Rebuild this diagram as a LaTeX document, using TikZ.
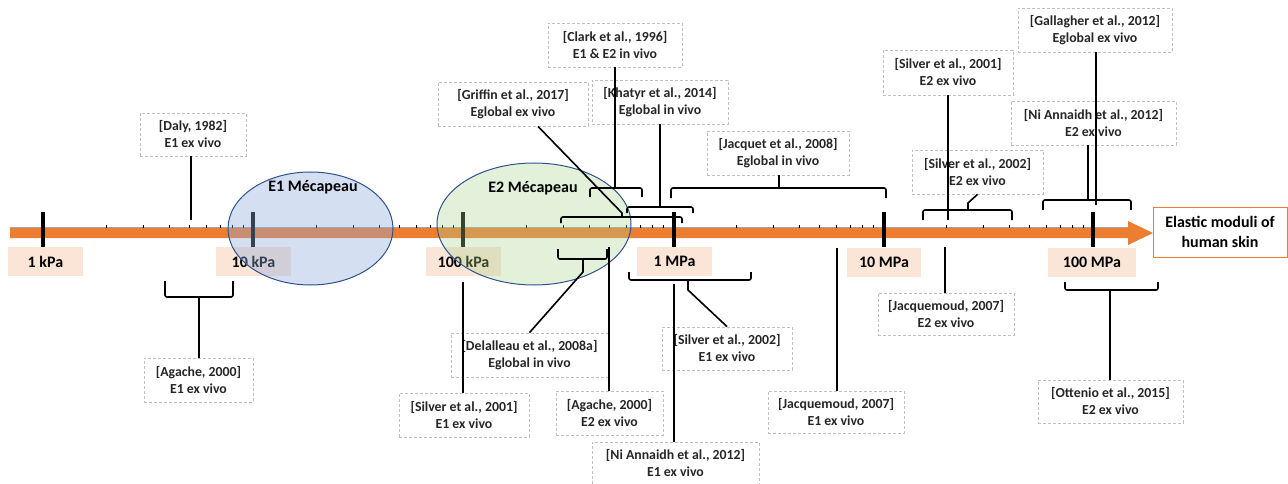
\documentclass[tikz,border=0pt]{standalone}
\usepackage{fontspec}
\setmainfont{Carlito}
\usetikzlibrary{shapes.geometric}
\definecolor{axorange}{HTML}{ED7D31}
\definecolor{peach}{HTML}{FBE5D6}
\definecolor{boxgray}{HTML}{BFBFBF}
\definecolor{eonefill}{HTML}{8FAADC}
\definecolor{etwofill}{HTML}{A9D18E}
\definecolor{ellline}{HTML}{2F528F}
\definecolor{reftext}{HTML}{262626}
\newcommand{\mybrace}[4]{\draw[conn, rounded corners=2pt] (#1,{#3+#4}) -- (#1,#3) -- (#2,#3) -- (#2,{#3+#4});}
\begin{document}
\begin{tikzpicture}[x=1pt,y=-1pt,
  conn/.style={draw=black, line width=1.6pt},
  refb/.style={draw=boxgray, dash pattern=on 3pt off 2pt, line width=0.8pt, align=center, inner sep=0pt, text=reftext, font=\bfseries\fontsize{13.8}{17}\selectfont},
  axlab/.style={fill=peach, minimum height=29, inner sep=0pt, font=\bfseries\fontsize{16}{19}\selectfont},
  big/.style={font=\bfseries\fontsize{16}{19}\selectfont}]
\useasboundingbox (0,0) rectangle (1288,484);

% axis
\fill[axorange] (10,228) -- (1128,228) -- (1128,221) -- (1153,233) -- (1128,245) -- (1128,238) -- (10,238) -- cycle;
\draw[gray!70, line width=0.7pt] (10,227.8) -- (1128,227.8);
\foreach \k in {0,...,4}{
  \foreach \m in {2,...,9}{
    \pgfmathsetmacro\tx{43+210*(\k+log10(\m))}
    \draw[black, line width=0.8pt] (\tx,224.5) -- (\tx,228);
  }
}
\foreach \tx in {43,253,463,674,884,1093}{
  \draw[black, line width=4pt] (\tx,212) -- (\tx,247);
}

% axis labels
\node[axlab, minimum width=75] (l1) at (45.5,261.5) {1 kPa};
\node[axlab, minimum width=75] (l2) at (253.5,261.5) {10 kPa};
\node[axlab, minimum width=75] (l3) at (463.5,261.5) {100 kPa};
\node[axlab, minimum width=75] (l4) at (674.5,261.5) {1 MPa};
\node[axlab, minimum width=74] (l5) at (884,262) {10 MPa};
\node[axlab, minimum width=88] (l6) at (1092,262.5) {100 MPa};

% ellipses
\node[ellipse, draw=ellline, line width=1pt, fill=eonefill, fill opacity=0.38, minimum width=165, minimum height=113, inner sep=0pt] (e1) at (310.5,228.5) {};
\node[ellipse, draw=ellline, line width=1pt, fill=etwofill, fill opacity=0.33, minimum width=194, minimum height=122, inner sep=0pt] (e2) at (534,224) {};
\node[big] (e1t) at (313,187) {E1 Mécapeau};
\node[big] (e2t) at (533,188) {E2 Mécapeau};

% reference boxes (top)
\node[refb, minimum width=106, minimum height=43] (daly) at (193,134.5) {[Daly, 1982]\\E1 ex vivo};
\node[refb, minimum width=134, minimum height=44] (clark) at (615,45) {[Clark et al., 1996]\\E1 \& E2 in vivo};
\node[refb, minimum width=150, minimum height=44] (griffin) at (513,104) {[Griffin et al., 2017]\\Eglobal ex vivo};
\node[refb, minimum width=136, minimum height=44] (khatyr) at (660,102) {[Khatyr et al., 2014]\\Eglobal in vivo};
\node[refb, minimum width=142, minimum height=44] (jacquet) at (778,153) {[Jacquet et al., 2008]\\Eglobal in vivo};
\node[refb, minimum width=130, minimum height=45] (sOtop) at (948,72.5) {[Silver et al., 2001]\\E2 ex vivo};
\node[refb, minimum width=131, minimum height=44] (sTtop) at (977.5,172) {[Silver et al., 2002]\\E2 ex vivo};
\node[refb, minimum width=154, minimum height=44] (gall) at (1095,30) {[Gallagher et al., 2012]\\Eglobal ex vivo};
\node[refb, minimum width=165, minimum height=44] (niTop) at (1093.5,123) {[Ni Annaidh et al., 2012]\\E2 ex vivo};

% reference boxes (bottom)
\node[refb, minimum width=109, minimum height=44] (agOne) at (198.5,380) {[Agache, 2000]\\E1 ex vivo};
\node[refb, minimum width=130, minimum height=44] (sObot) at (464,415) {[Silver et al., 2001]\\E1 ex vivo};
\node[refb, minimum width=157, minimum height=44] (dela) at (529.5,355) {[Delalleau et al., 2008a]\\Eglobal in vivo};
\node[refb, minimum width=107, minimum height=44] (agTwo) at (609.5,413) {[Agache, 2000]\\E2 ex vivo};
\node[refb, minimum width=167, minimum height=42] (niBot) at (675.5,463) {[Ni Annaidh et al., 2012]\\E1 ex vivo};
\node[refb, minimum width=130, minimum height=43] (sTbot) at (727,348.5) {[Silver et al., 2002]\\E1 ex vivo};
\node[refb, minimum width=136, minimum height=42] (jqOne) at (836,412) {[Jacquemoud, 2007]\\E1 ex vivo};
\node[refb, minimum width=136, minimum height=42] (jqTwo) at (946,314) {[Jacquemoud, 2007]\\E2 ex vivo};
\node[refb, minimum width=145, minimum height=43] (ott) at (1110.5,401.5) {[Ottenio et al., 2015]\\E2 ex vivo};

% braces
\mybrace{590}{642}{188}{9}
\mybrace{561}{682}{217}{6}
\mybrace{627}{693}{207}{6}
\mybrace{671}{886}{188}{10}
\mybrace{923}{1012}{210}{10}
\mybrace{1043}{1131}{200}{10}
\mybrace{165}{233}{297}{-16}
\mybrace{558}{607}{259}{-10}
\mybrace{629}{751}{280}{-8}
\mybrace{1065}{1158}{290}{-8}

% end points
\coordinate (dalyE) at (191,220);
\coordinate (clarkE) at (615,188);
\coordinate (griffK) at (622,213);
\coordinate (griffE) at (622,217);
\coordinate (khatyrE) at (660,207);
\coordinate (jacquetE) at (779,188);
\coordinate (sOtopE) at (948,220);
\coordinate (sTtopK) at (968,203);
\coordinate (sTtopE) at (968,210);
\coordinate (gallE) at (1096,205);
\coordinate (niTopE) at (1088,200);
\coordinate (agOneE) at (199,297);
\coordinate (sObotE) at (463,282);
\coordinate (delaE) at (583,259);
\coordinate (delaK) at (583,272);
\coordinate (agTwoE) at (609,247);
\coordinate (niBotE) at (674,284);
\coordinate (sTbotE) at (688,280);
\coordinate (sTbotK) at (688,290);
\coordinate (jqOneE) at (837,248);
\coordinate (jqTwoE) at (945,247);
\coordinate (ottE) at (1110,290);

% connectors
\draw[conn] (daly.south -| dalyE) -- (dalyE);
\draw[conn] (clark.south) -- (clarkE);
\draw[conn] ([xshift=25pt]griffin.south) -- (griffK) -- (griffE);
\draw[conn] (khatyr.south) -- (khatyrE);
\draw[conn] (jacquet.south -| jacquetE) -- (jacquetE);
\draw[conn] (sOtop.south) -- (sOtopE);
\draw[conn] (sTtop.south) -- (sTtopK) -- (sTtopE);
\draw[conn] (gall.south -| gallE) -- (gallE);
\draw[conn] (niTop.south -| niTopE) -- (niTopE);
\draw[conn] (agOne.north -| agOneE) -- (agOneE);
\draw[conn] (sObot.north -| sObotE) -- (sObotE);
\draw[conn] (dela.north) -- (delaK) -- (delaE);
\draw[conn] (agTwo.north -| agTwoE) -- (agTwoE);
\draw[conn] (niBot.north -| niBotE) -- (niBotE);
\draw[conn] (sTbot.north) -- (sTbotK) -- (sTbotE);
\draw[conn] (jqOne.north -| jqOneE) -- (jqOneE);
\draw[conn] (jqTwo.north -| jqTwoE) -- (jqTwoE);
\draw[conn] (ott.north -| ottE) -- (ottE);

% title box
\node[draw=axorange, line width=1pt, fill=white, minimum width=134, minimum height=50, inner sep=0pt, align=center, font=\bfseries\fontsize{16}{20}\selectfont] (title) at (1220,232) {Elastic moduli of\\human skin};
\end{tikzpicture}
\end{document}
